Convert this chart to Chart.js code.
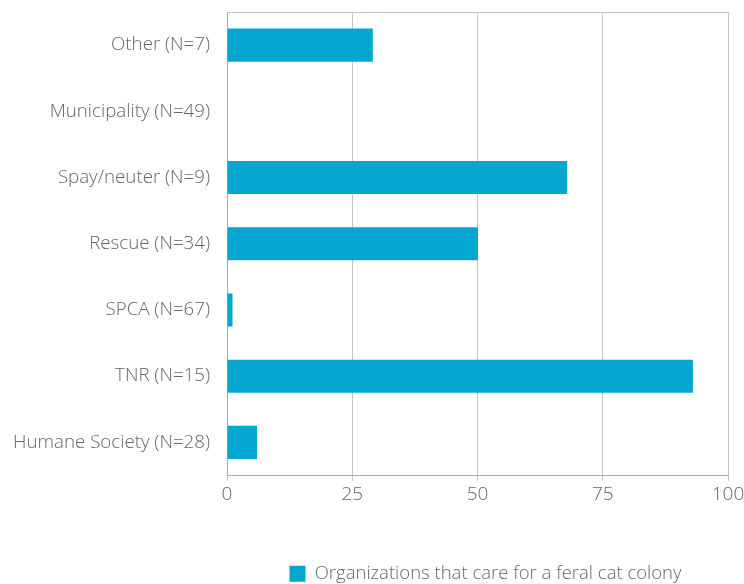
<!DOCTYPE html>
<html>
<head>
<meta charset="utf-8">
<script src="https://cdn.jsdelivr.net/npm/chart.js@4/dist/chart.umd.min.js"></script>
<style>
  html, body { margin: 0; padding: 0; background: #fff; }
  #wrap { width: 744px; height: 584px; }
</style>
</head>
<body>
<div id="wrap"><canvas id="chart"></canvas></div>
<script>
const categories = [
  'Other (N=7)',
  'Municipality (N=49)',
  'Spay/neuter (N=9)',
  'Rescue (N=34)',
  'SPCA (N=67)',
  'TNR (N=15)',
  'Humane Society (N=28)'
];
const feralColony = [29.1, 0, 67.9, 50.1, 1.1, 93.0, 6.0];
const xTicks = [0, 25, 50, 75, 100];
const seriesLabel = 'Organizations that care for a feral cat colony';

const textColor = '#666666';
const gridColor = '#c4c4c4';

const topBorder = {
  id: 'topBorder',
  beforeDraw(chart) {
    // nudge legend to sit a bit right of the plot centre like the original
    chart.legend.left += 8;
    chart.legend.right += 8;
  },
  afterDraw(chart) {
    const { ctx, chartArea } = chart;
    ctx.save();
    ctx.strokeStyle = gridColor;
    ctx.lineWidth = 1;
    ctx.beginPath();
    ctx.moveTo(chartArea.left, chartArea.top + 0.5);
    ctx.lineTo(chartArea.right, chartArea.top + 0.5);
    ctx.stroke();
    ctx.restore();
  }
};

const chart = new Chart(document.getElementById('chart'), {
  type: 'bar',
  data: {
    labels: categories,
    datasets: [{
      label: seriesLabel,
      data: feralColony,
      backgroundColor: '#05a7d0',
      barPercentage: 0.5,
      categoryPercentage: 1.0
    }]
  },
  options: {
    indexAxis: 'y',
    responsive: true,
    maintainAspectRatio: false,
    animation: false,
    layout: { padding: { top: 12, right: 16, left: 0, bottom: -9 } },
    plugins: {
      tooltip: { enabled: false },
      legend: {
        position: 'bottom',
        fullSize: false,
        labels: {
          color: textColor,
          boxWidth: 16,
          boxHeight: 16,
          padding: 0,
          font: { family: 'Open Sans', size: 18.5, weight: '300' }
        }
      }
    },
    scales: {
      x: {
        min: 0,
        max: 100,
        afterBuildTicks(scale) { scale.ticks = xTicks.map(v => ({ value: v })); },
        afterFit(scale) {
          scale.height = 89;
          scale.paddingRight = 0;
          scale.paddingLeft = 0;
        },
        grid: { color: gridColor, tickLength: 5, drawTicks: true },
        border: { color: '#a8a8a8' },
        ticks: {
          color: textColor,
          padding: 3,
          maxRotation: 0,
          font: { family: 'Open Sans', size: 19, weight: '300' }
        }
      },
      y: {
        afterFit(scale) {
          scale.width = 227;
          scale.paddingTop = 0;
          scale.paddingBottom = 0;
        },
        grid: { display: false, drawTicks: false },
        border: { color: '#a8a8a8' },
        ticks: {
          color: textColor,
          padding: 17,
          font: { family: 'Open Sans', size: 18.7, weight: '300' }
        }
      }
    }
  },
  plugins: [topBorder]
});
</script>
</body>
</html>
